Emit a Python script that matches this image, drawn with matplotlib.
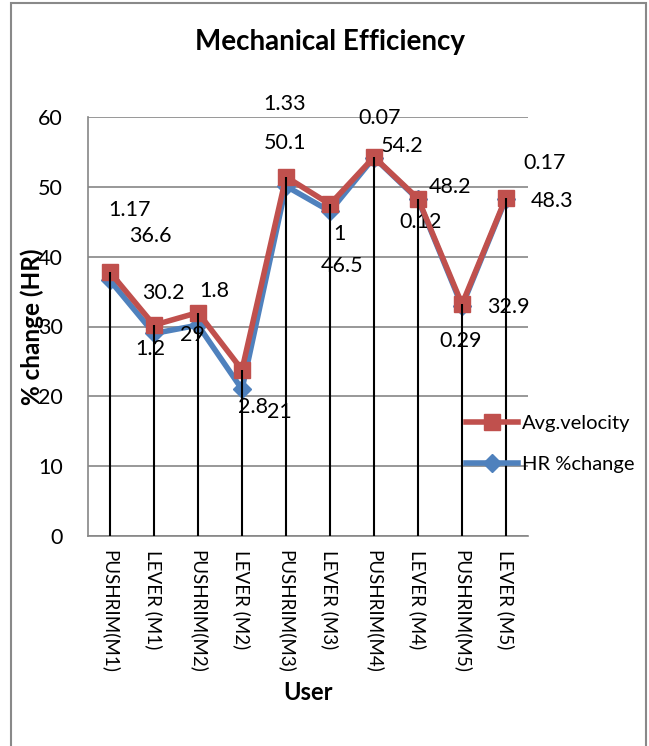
import matplotlib.pyplot as plt
from matplotlib.patches import Rectangle

# data
users = ['PUSHRIM(M1)', 'LEVER (M1)', 'PUSHRIM(M2)', 'LEVER (M2)', 'PUSHRIM(M3)',
         'LEVER (M3)', 'PUSHRIM(M4)', 'LEVER (M4)', 'PUSHRIM(M5)', 'LEVER (M5)']
hr_change = [36.6, 29, 30.2, 21, 50.1, 46.5, 54.2, 48.2, 32.9, 48.3]
avg_velocity = [1.17, 1.2, 1.8, 2.8, 1.33, 1, 0.07, 0.12, 0.29, 0.17]

# label offsets in pixels (dx, dy), Excel-style placement
hr_offsets = [(40, 44), (38, -2), (-35, 32), (37, -23), (-1, 43),
              (12, -55), (28, 12), (32, 12), (46, -1), (46, -2)]
vel_offsets = [(20, 62), (-4, -24), (16, 22), (11, -37), (-1, 73),
               (9, -30), (6, 39), (3, -23), (-1, -37), (39, 35)]

plt.rcParams['font.family'] = ['Lato', 'DejaVu Sans']

W, H = 649, 746
fig = plt.figure(figsize=(W / 100, H / 100), dpi=100)
ax = fig.add_axes([88 / W, 1 - 536 / H, 440 / W, 419 / H])

x = list(range(len(users)))
stacked = [h + v for h, v in zip(hr_change, avg_velocity)]

ax.plot(x, hr_change, color='#4F81BD', lw=4, marker='D', ms=9.5,
        label='HR %change', zorder=3)
ax.plot(x, stacked, color='#C0504D', lw=4, marker='s', ms=11,
        label='Avg.velocity', zorder=4)

# drop lines
ax.vlines(x, 0, [max(a, b) for a, b in zip(hr_change, stacked)],
          colors='black', lw=1.5, zorder=5)

for i in x:
    ax.annotate(f'{hr_change[i]:g}', (i, hr_change[i]), xytext=hr_offsets[i],
                textcoords='offset pixels', ha='center', va='center', fontsize=15.5)
    ax.annotate(f'{avg_velocity[i]:g}', (i, stacked[i]), xytext=vel_offsets[i],
                textcoords='offset pixels', ha='center', va='center', fontsize=15.5)

ax.set_xlim(-0.5, 9.5)
ax.set_ylim(0, 60)
ax.set_yticks(range(0, 61, 10))
ax.set_xticks(x)
ax.set_xticklabels(users, rotation=270, fontsize=13.5)
ax.tick_params(axis='y', length=0, pad=18, labelsize=15.5)
ax.tick_params(axis='x', length=0, pad=10)
ax.yaxis.grid(True, color='#868686', lw=1.2)
ax.set_axisbelow(True)
for s in ['top', 'right']:
    ax.spines[s].set_visible(False)
for s in ['left', 'bottom']:
    ax.spines[s].set_color('#868686')
    ax.spines[s].set_linewidth(1.2)

handles, labels = ax.get_legend_handles_labels()
ax.legend(handles[::-1], labels[::-1], loc='center left', frameon=False,
          bbox_to_anchor=(466 / W, 1 - 444 / H), bbox_transform=fig.transFigure,
          fontsize=14.5, handlelength=2.6, handletextpad=0.2, labelspacing=1.2,
          borderaxespad=0, borderpad=0)

fig.text(330 / W, 1 - 42 / H, 'Mechanical Efficiency', ha='center', va='center',
         fontsize=20, fontweight='bold')
fig.text(308 / W, 1 - 693 / H, 'User', ha='center', va='center',
         fontsize=17, fontweight='bold')
fig.text(32 / W, 1 - 327 / H, '% change (HR)', ha='center', va='center',
         rotation=90, fontsize=17.5, fontweight='bold')

# chart border
fig.patches.append(Rectangle((11 / W, -0.05), 635 / W, 1.05 - 3 / H,
                             transform=fig.transFigure, fill=False,
                             edgecolor='#898989', lw=1.5))

fig.savefig('out.png', dpi=100)
